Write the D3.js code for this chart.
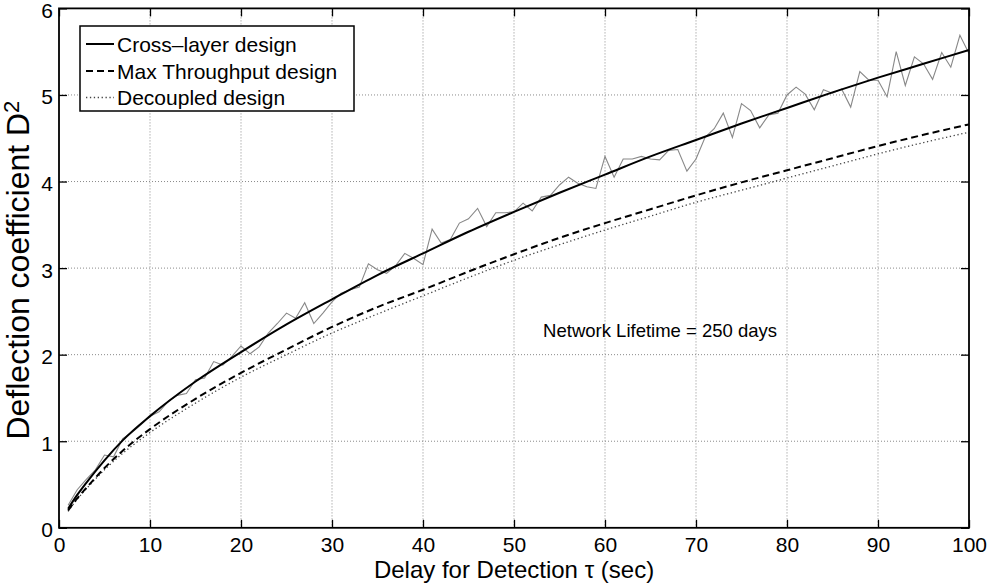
<!DOCTYPE html>
<html>
<head>
<meta charset="utf-8">
<script src="https://cdn.jsdelivr.net/npm/d3@7"></script>
<style>
  html, body { margin: 0; padding: 0; background: #fff; }
  svg { display: block; }
  text { font-family: "Liberation Sans", Arial, Helvetica, sans-serif; fill: #000; }
</style>
</head>
<body>
<svg id="chart" width="993" height="583"></svg>
<script>
// Sample points for the three smooth design curves
const smoothX = [1, 2, 3, 5, 7, 10, 15, 20, 25, 30, 35, 40, 45, 50, 55, 60, 65, 70, 75, 80, 85, 90, 95, 100];
const crossLayer = [0.22, 0.38, 0.52, 0.78, 1.01, 1.29, 1.69, 2.03, 2.35, 2.64, 2.92, 3.17, 3.42, 3.65, 3.87, 4.08, 4.29, 4.48, 4.67, 4.85, 5.03, 5.20, 5.36, 5.52];
const maxThroughput = [0.20, 0.34, 0.46, 0.69, 0.89, 1.14, 1.49, 1.79, 2.06, 2.32, 2.55, 2.75, 2.96, 3.16, 3.35, 3.52, 3.68, 3.84, 3.99, 4.13, 4.27, 4.41, 4.54, 4.66];
const decoupled = [0.19, 0.33, 0.45, 0.67, 0.86, 1.10, 1.44, 1.74, 2.00, 2.25, 2.47, 2.68, 2.89, 3.09, 3.27, 3.44, 3.60, 3.76, 3.90, 4.04, 4.18, 4.32, 4.45, 4.57];

// Simulated cross-layer deflection, one value per second of delay (1..100)
const simX = d3.range(1, 101);
const simulated = [
  0.26, 0.44, 0.56, 0.67, 0.84, 0.82, 1.03, 1.10, 1.19, 1.29,
  1.34, 1.46, 1.53, 1.55, 1.71, 1.73, 1.92, 1.88, 1.98, 2.10,
  2.01, 2.09, 2.25, 2.36, 2.48, 2.42, 2.60, 2.36, 2.48, 2.61,
  2.71, 2.75, 2.78, 3.05, 2.98, 2.94, 3.03, 3.17, 3.11, 3.04,
  3.45, 3.29, 3.33, 3.52, 3.57, 3.69, 3.48, 3.64, 3.64, 3.65,
  3.75, 3.66, 3.82, 3.84, 3.96, 4.05, 3.98, 3.94, 3.92, 4.29,
  4.05, 4.26, 4.26, 4.29, 4.26, 4.25, 4.36, 4.37, 4.12, 4.26,
  4.51, 4.61, 4.79, 4.51, 4.90, 4.82, 4.62, 4.77, 4.79, 5.00,
  5.09, 5.01, 4.83, 5.06, 5.02, 5.07, 4.86, 5.27, 5.17, 5.17,
  4.98, 5.50, 5.11, 5.44, 5.36, 5.18, 5.49, 5.32, 5.69, 5.48
];

const xTicks = [0, 10, 20, 30, 40, 50, 60, 70, 80, 90, 100];
const yTicks = [0, 1, 2, 3, 4, 5, 6];
const legendLabels = ["Cross\u2013layer design", "Max Throughput design", "Decoupled design"];

const svg = d3.select("#chart");
const plotLeft = 59, plotRight = 969, plotTop = 8.4, plotBottom = 527.8;

const x = d3.scaleLinear().domain([0, 100]).range([plotLeft, plotRight]);
const y = d3.scaleLinear().domain([0, 6]).range([plotBottom, plotTop]);

svg.append("rect").attr("width", 993).attr("height", 583).attr("fill", "#fff");

// Dotted grid
const grid = svg.append("g");
grid.selectAll("line.gx").data(xTicks.slice(1, -1)).join("line")
  .attr("class", "gx")
  .attr("x1", d => x(d)).attr("x2", d => x(d))
  .attr("y1", plotTop).attr("y2", plotBottom)
  .attr("stroke", "#8a8a8a").attr("stroke-width", 1).attr("stroke-dasharray", "1,2");
grid.selectAll("line.gy").data(yTicks.slice(1, -1)).join("line")
  .attr("class", "gy")
  .attr("x1", plotLeft).attr("x2", plotRight)
  .attr("y1", d => y(d)).attr("y2", d => y(d))
  .attr("stroke", "#8a8a8a").attr("stroke-width", 1).attr("stroke-dasharray", "1,2");

// Curves
const smoothLine = vals => d3.line()
  .x((d, i) => x(smoothX[i]))
  .y(d => y(d))
  .curve(d3.curveMonotoneX)(vals);

const plot = svg.append("g");
plot.append("path").attr("d", d3.line().x((d, i) => x(simX[i])).y(d => y(d))(simulated))
  .attr("fill", "none").attr("stroke", "#888").attr("stroke-width", 1.1);
plot.append("path").attr("d", smoothLine(decoupled))
  .attr("fill", "none").attr("stroke", "#444").attr("stroke-width", 1.3).attr("stroke-dasharray", "1.3,2.6");
plot.append("path").attr("d", smoothLine(maxThroughput))
  .attr("fill", "none").attr("stroke", "#000").attr("stroke-width", 2).attr("stroke-dasharray", "7,4");
plot.append("path").attr("d", smoothLine(crossLayer))
  .attr("fill", "none").attr("stroke", "#000").attr("stroke-width", 2);

// Axes with inward ticks
const fontSize = "21px";
const gx = svg.append("g").attr("transform", `translate(0,${plotBottom})`)
  .call(d3.axisBottom(x).tickValues(xTicks).tickSize(-8).tickPadding(9).tickFormat(d3.format("d")));
const gy = svg.append("g").attr("transform", `translate(${plotLeft},0)`)
  .call(d3.axisLeft(y).tickValues(yTicks).tickSize(-8).tickPadding(6).tickFormat(d3.format("d")));
const gt = svg.append("g").attr("transform", `translate(0,${plotTop})`)
  .call(d3.axisTop(x).tickValues(xTicks).tickSize(-8).tickFormat(""));
const gr = svg.append("g").attr("transform", `translate(${plotRight},0)`)
  .call(d3.axisRight(y).tickValues(yTicks).tickSize(-8).tickFormat(""));
[gx, gy, gt, gr].forEach(g => {
  g.select(".domain").remove();
  g.selectAll(".tick line").attr("stroke", "#000").attr("stroke-width", 1.3);
  g.selectAll(".tick text").style("font-size", fontSize).attr("fill", "#000")
    .style("font-family", "'Liberation Sans', Arial, Helvetica, sans-serif");
});
gy.selectAll(".tick text").attr("dy", "0.43em");

svg.append("rect")
  .attr("x", plotLeft).attr("y", plotTop).attr("width", plotRight - plotLeft).attr("height", plotBottom - plotTop)
  .attr("fill", "none").attr("stroke", "#000").attr("stroke-width", 1.8);

// Axis titles
svg.append("text")
  .attr("x", (plotLeft + plotRight) / 2).attr("y", 578)
  .attr("text-anchor", "middle").style("font-size", "24px")
  .text("Delay for Detection \u03C4 (sec)");

const yTitle = svg.append("text")
  .attr("transform", `translate(29,${(plotTop + plotBottom) / 2 + 2}) rotate(-90)`)
  .attr("text-anchor", "middle").style("font-size", "32px");
yTitle.append("tspan").text("Deflection coefficient D");
yTitle.append("tspan").attr("dy", "-0.45em").style("font-size", "22px").text("2");

// Annotation
svg.append("text")
  .attr("x", x(53.2)).attr("y", 337)
  .style("font-size", "18.5px")
  .text("Network Lifetime = 250 days");

// Legend
const legend = svg.append("g");
legend.append("rect")
  .attr("x", 80).attr("y", 26).attr("width", 274).attr("height", 85)
  .attr("fill", "#fff").attr("stroke", "#000").attr("stroke-width", 1.5);
const legendStyles = [
  { stroke: "#000", width: 2, dash: null },
  { stroke: "#000", width: 2, dash: "7,4" },
  { stroke: "#444", width: 1.3, dash: "1.3,2.6" }
];
const rowY = [44, 71, 97.5];
legendLabels.forEach((label, i) => {
  legend.append("line")
    .attr("x1", 86).attr("x2", 114).attr("y1", rowY[i]).attr("y2", rowY[i])
    .attr("stroke", legendStyles[i].stroke).attr("stroke-width", legendStyles[i].width)
    .attr("stroke-dasharray", legendStyles[i].dash);
  legend.append("text")
    .attr("x", 117).attr("y", rowY[i]).attr("dy", "0.36em")
    .style("font-size", "21px").text(label);
});
</script>
</body>
</html>
